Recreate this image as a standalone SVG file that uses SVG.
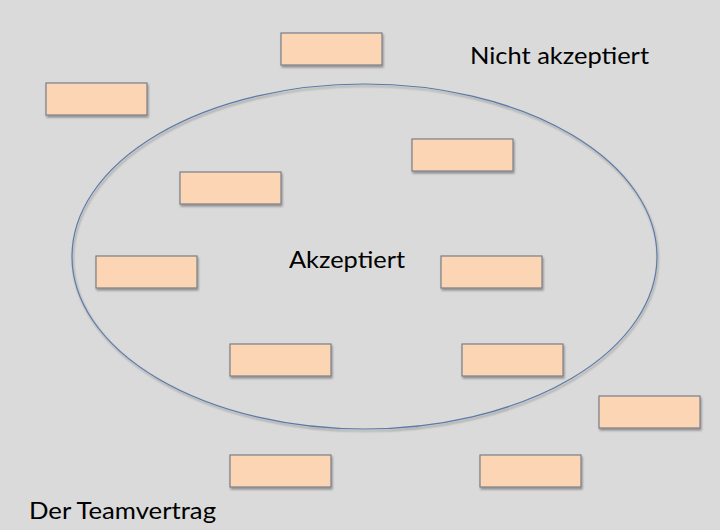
<svg xmlns="http://www.w3.org/2000/svg" width="720" height="530" viewBox="0 0 720 530">
<style>
.bg{fill:#dadada}
.box{fill:#fcd5b4;stroke:#7a7f88;stroke-width:1.2}
.sh{fill:#000;opacity:0.18}
.ell{fill:none;stroke:#5b7aa6;stroke-width:1.2}
text{font-family:Lato,"Open Sans","Liberation Sans",sans-serif;font-size:24px;fill:#000}
</style>
<defs>
<filter id="ds" x="-10%" y="-20%" width="130%" height="160%">
<feGaussianBlur in="SourceAlpha" stdDeviation="1"/>
<feOffset dx="1" dy="1.5" result="b"/>
<feComponentTransfer><feFuncA type="linear" slope="0.35"/></feComponentTransfer>
<feMerge><feMergeNode/><feMergeNode in="SourceGraphic"/></feMerge>
</filter>
</defs>
<rect class="bg" x="0" y="0" width="720" height="530"/>
<g id="contract">
<ellipse class="ell" cx="364.5" cy="256.5" rx="292.5" ry="172.5" filter="url(#ds)"/>
</g>
<g id="node1"><rect class="box" x="281" y="33" width="101" height="32" filter="url(#ds)"/></g>
<g id="node2"><rect class="box" x="46" y="83" width="101" height="32" filter="url(#ds)"/></g>
<g id="node3"><rect class="box" x="412" y="139" width="101" height="32" filter="url(#ds)"/></g>
<g id="node4"><rect class="box" x="180" y="172" width="101" height="32" filter="url(#ds)"/></g>
<g id="node5"><rect class="box" x="96" y="256" width="101" height="32" filter="url(#ds)"/></g>
<g id="node6"><rect class="box" x="441" y="256" width="101" height="32" filter="url(#ds)"/></g>
<g id="node7"><rect class="box" x="230" y="344" width="101" height="32" filter="url(#ds)"/></g>
<g id="node8"><rect class="box" x="462" y="344" width="101" height="32" filter="url(#ds)"/></g>
<g id="node9"><rect class="box" x="599" y="396" width="101" height="32" filter="url(#ds)"/></g>
<g id="node10"><rect class="box" x="230" y="455" width="101" height="32" filter="url(#ds)"/></g>
<g id="node11"><rect class="box" x="480" y="455" width="101" height="32" filter="url(#ds)"/></g>
<g id="connectors"></g>
<g id="labels">
<text x="470" y="64" textLength="179" lengthAdjust="spacingAndGlyphs">Nicht akzeptiert</text>
<text x="289" y="268" textLength="116" lengthAdjust="spacingAndGlyphs">Akzeptiert</text>
<text x="29" y="519" textLength="187" lengthAdjust="spacingAndGlyphs">Der Teamvertrag</text>
</g>
</svg>
